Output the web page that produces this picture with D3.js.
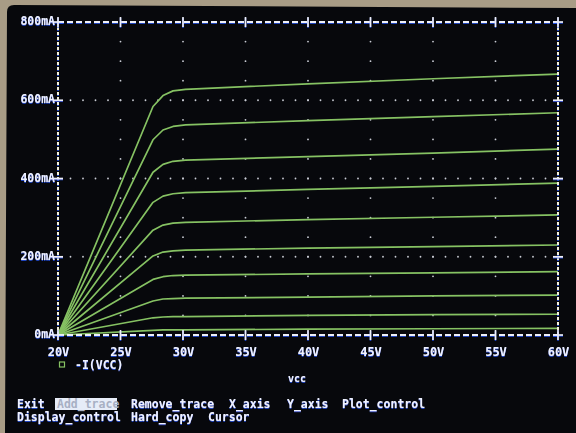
<!DOCTYPE html>
<html>
<head>
<meta charset="utf-8">
<script src="https://cdn.jsdelivr.net/npm/d3@7/dist/d3.min.js"></script>
<style>
html,body{margin:0;padding:0;background:#a89c86;}
svg{display:block;}
text{font-family:"DejaVu Sans Mono",monospace;font-weight:bold;}
</style>
</head>
<body>
<svg id="chart" width="576" height="433"></svg>
<script>
// ---- data ----
const vcc = [20, 27.6, 28.4, 29.2, 30.2, 40, 50, 60];          // V
const ic1  = [0, 584, 612, 624, 628, 642, 655, 667];           // mA
const ic2  = [0, 499, 524, 533, 537, 548, 558, 568];
const ic3  = [0, 416, 436, 444, 447, 456, 465, 475];
const ic4  = [0, 339, 355, 361, 364, 372, 380, 388];
const ic5  = [0, 268, 281, 286, 288, 295, 301, 307];
const ic6  = [0, 202, 212, 215, 217, 222, 226, 230];
const ic7  = [0, 142, 149, 152, 153, 156, 159, 162];
const ic8  = [0, 87, 92, 93, 94, 97, 100, 102];
const ic9  = [0, 44, 46, 47, 47, 50, 52, 53];
const ic10 = [0, 12, 13, 13, 13, 15, 16, 17];
const seriesList = [ic1, ic2, ic3, ic4, ic5, ic6, ic7, ic8, ic9, ic10];

const xTicks = [20, 25, 30, 35, 40, 45, 50, 55, 60];
const xTickLabels = ["20V","25V","30V","35V","40V","45V","50V","55V","60V"];
const yTicks = [0, 200, 400, 600, 800];
const yTickLabels = ["0mA","200mA","400mA","600mA","800mA"];
const legendLabel = "-I(VCC)";
const xTitle = "vcc";
const menuRow1 = ["Exit","Add_trace","Remove_trace","X_axis","Y_axis","Plot_control"];
const menuRow2 = ["Display_control","Hard_copy","Cursor"];

// ---- drawing ----
const svg = d3.select("#chart");
const defs = svg.append("defs");
const glow = defs.append("filter").attr("id","glow").attr("x","-20%").attr("y","-40%").attr("width","140%").attr("height","180%");
glow.append("feDropShadow").attr("dx",0).attr("dy",0.8).attr("stdDeviation",0.7)
  .attr("flood-color","#2a5cff").attr("flood-opacity",0.9);

// CRT screen
svg.append("path")
  .attr("d","M7,12 Q7,5 14,5 L576,8 L576,433 L5,433 Z")
  .attr("fill","#07080c");

const x = d3.scaleLinear().domain([20,60]).range([58,558]);
const y = d3.scaleLinear().domain([0,800]).range([335,22]);

const TXT = "#eef2ff";
const AX = "#eef0f8";

// grid dots
const gDots = svg.append("g").attr("fill","#c9ccd4");
[200,400,600].forEach(v=>{
  d3.range(21,60,1).forEach(xv=>{
    gDots.append("circle").attr("cx",x(xv)).attr("cy",y(v)).attr("r",0.9);
  });
});
[25,30,35,40,45,50,55].forEach(xv=>{
  d3.range(50,800,50).forEach(v=>{
    gDots.append("circle").attr("cx",x(xv)).attr("cy",y(v)).attr("r",0.9);
  });
});

// curves
const line = d3.line().x((d,i)=>x(vcc[i])).y(d=>y(d)).curve(d3.curveLinear);
svg.append("g").selectAll("path").data(seriesList).join("path")
  .attr("d",line).attr("fill","none").attr("stroke","#86c263").attr("stroke-width",1.7)
  .attr("stroke-linejoin","round");

// frame (dashed)
const fr = svg.append("g").attr("stroke",AX).attr("stroke-width",2).attr("filter","url(#glow)");
fr.append("line").attr("x1",x(20)).attr("x2",x(60)).attr("y1",y(0)).attr("y2",y(0)).attr("stroke-dasharray","6,3");
fr.append("line").attr("x1",x(20)).attr("x2",x(60)).attr("y1",y(800)).attr("y2",y(800)).attr("stroke-dasharray","6,3");
fr.append("line").attr("x1",x(20)).attr("x2",x(20)).attr("y1",y(0)).attr("y2",y(800)).attr("stroke-dasharray","3,2").attr("stroke","#f4f2dc");
fr.append("line").attr("x1",x(60)).attr("x2",x(60)).attr("y1",y(0)).attr("y2",y(800)).attr("stroke-dasharray","3,2").attr("stroke","#f4f2dc");

// tick crosses
const tk = svg.append("g").attr("stroke",AX).attr("stroke-width",1.6).attr("filter","url(#glow)");
xTicks.forEach(v=>{
  [y(0), y(800)].forEach(yy=>{
    tk.append("line").attr("x1",x(v)).attr("x2",x(v)).attr("y1",yy-5).attr("y2",yy+5);
  });
});
yTicks.forEach(v=>{
  [x(20), x(60)].forEach(xx=>{
    tk.append("line").attr("x1",xx-5).attr("x2",xx+5).attr("y1",y(v)).attr("y2",y(v));
  });
});

// axis labels (via d3 axes, then styled)
const xAxis = d3.axisBottom(x).tickValues(xTicks).tickFormat((d,i)=>xTickLabels[i]).tickSize(0).tickPadding(0);
const gx = svg.append("g").attr("transform",`translate(0,${y(0)+17})`).call(xAxis);
gx.select(".domain").remove();
gx.selectAll("text").attr("fill",TXT).attr("font-size","12px").attr("dy","0.35em")
  .style("font-family","'DejaVu Sans Mono',monospace").style("font-weight","bold").attr("filter","url(#glow)");

const yAxis = d3.axisLeft(y).tickValues(yTicks).tickFormat((d,i)=>yTickLabels[i]).tickSize(0).tickPadding(0);
const gy = svg.append("g").attr("transform",`translate(${x(20)-3},-1)`).call(yAxis);
gy.select(".domain").remove();
gy.selectAll("text").attr("fill",TXT).attr("font-size","11.5px")
  .style("font-family","'DejaVu Sans Mono',monospace").style("font-weight","bold").attr("filter","url(#glow)");

// legend
svg.append("rect").attr("x",59.5).attr("y",362).attr("width",5).attr("height",5)
  .attr("fill","none").attr("stroke","#86c263").attr("stroke-width",1.2);
svg.append("text").attr("x",75).attr("y",365).attr("dy","0.35em").attr("fill",TXT)
  .attr("font-size","11.5px").attr("filter","url(#glow)").text(legendLabel);

// x title
svg.append("text").attr("x",297).attr("y",378).attr("dy","0.35em").attr("text-anchor","middle")
  .attr("fill",TXT).attr("font-size","10px").attr("filter","url(#glow)").text(xTitle);

// menu
const row1X = [17, 57, 131, 229, 287, 342];
const row2X = [17, 131, 208];
svg.append("rect").attr("x",55).attr("y",398).attr("width",62).attr("height",12).attr("fill","#e6ecf8");
menuRow1.forEach((t,i)=>{
  svg.append("text").attr("x",row1X[i]).attr("y",404).attr("dy","0.35em")
    .attr("fill", i===1 ? "#a8b0c4" : TXT).attr("font-size","11.5px")
    .attr("filter", i===1 ? null : "url(#glow)").text(t);
});
menuRow2.forEach((t,i)=>{
  svg.append("text").attr("x",row2X[i]).attr("y",417).attr("dy","0.35em")
    .attr("fill",TXT).attr("font-size","11.5px").attr("filter","url(#glow)").text(t);
});
</script>
</body>
</html>
